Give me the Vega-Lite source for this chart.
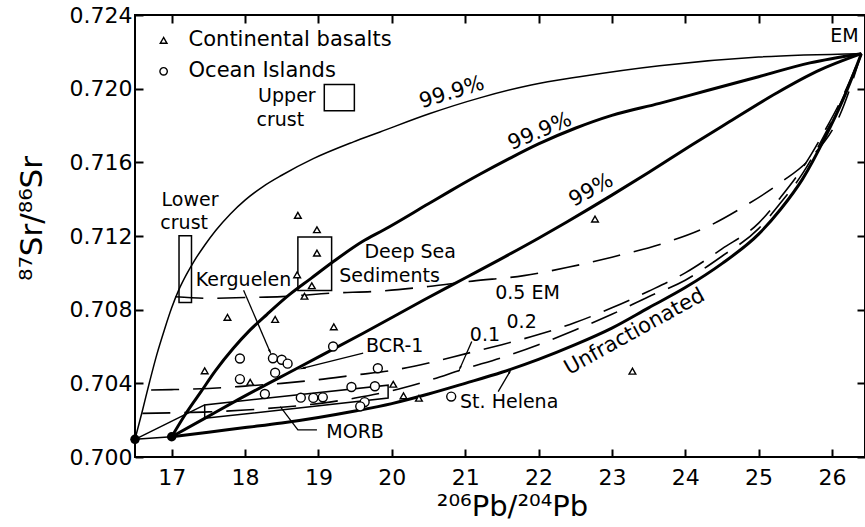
{
  "$schema": "https://vega.github.io/schema/vega-lite/v6.json",
  "width": 730,
  "height": 442,
  "autosize": "none",
  "padding": {"left": 135, "top": 15, "right": 0, "bottom": 70},
  "background": "white",
  "config": {
    "view": {"stroke": "black", "strokeWidth": 2},
    "font": "DejaVu Sans",
    "axis": {"domain": false, "grid": false, "tickColor": "black", "tickSize": -8, "tickWidth": 2, "labelFont": "DejaVu Sans", "labelFontSize": 22, "labelColor": "black", "titleFont": "DejaVu Sans", "titleFontWeight": "normal", "titleColor": "black"},
    "text": {"font": "DejaVu Sans", "fontSize": 20, "color": "black"}
  },
  "datasets": {
    "curves": [
      {"c": "A", "x": 16.5, "y": 0.70096}, {"c": "A", "x": 16.6, "y": 0.7025}, {"c": "A", "x": 16.7, "y": 0.7041}, {"c": "A", "x": 16.8, "y": 0.7056}, {"c": "A", "x": 16.9, "y": 0.7069}, {"c": "A", "x": 17.0, "y": 0.7081}, {"c": "A", "x": 17.1, "y": 0.7091}, {"c": "A", "x": 17.2, "y": 0.7099}, {"c": "A", "x": 17.3, "y": 0.7106}, {"c": "A", "x": 17.45, "y": 0.7115}, {"c": "A", "x": 17.6, "y": 0.7123}, {"c": "A", "x": 17.8, "y": 0.7132}, {"c": "A", "x": 18.0, "y": 0.71395}, {"c": "A", "x": 18.25, "y": 0.7147}, {"c": "A", "x": 18.5, "y": 0.7153}, {"c": "A", "x": 18.93, "y": 0.7162}, {"c": "A", "x": 19.47, "y": 0.7171}, {"c": "A", "x": 19.84, "y": 0.71765}, {"c": "A", "x": 20.52, "y": 0.71865}, {"c": "A", "x": 21.2, "y": 0.7195}, {"c": "A", "x": 21.9, "y": 0.7202}, {"c": "A", "x": 22.56, "y": 0.72065}, {"c": "A", "x": 23.65, "y": 0.72125}, {"c": "A", "x": 25.0, "y": 0.72172}, {"c": "A", "x": 26.4, "y": 0.7219},
      {"c": "H", "x": 16.5, "y": 0.70096}, {"c": "H", "x": 17.0, "y": 0.7011},
      {"c": "I", "x": 16.5, "y": 0.70096}, {"c": "I", "x": 17.45, "y": 0.70283},
      {"c": "B", "x": 17.0, "y": 0.7011}, {"c": "B", "x": 17.2, "y": 0.7024}, {"c": "B", "x": 17.4, "y": 0.70355}, {"c": "B", "x": 17.6, "y": 0.7047}, {"c": "B", "x": 17.84, "y": 0.7059}, {"c": "B", "x": 18.07, "y": 0.7069}, {"c": "B", "x": 18.3, "y": 0.70775}, {"c": "B", "x": 18.6, "y": 0.7088}, {"c": "B", "x": 18.9, "y": 0.7097}, {"c": "B", "x": 19.2, "y": 0.7106}, {"c": "B", "x": 19.6, "y": 0.7117}, {"c": "B", "x": 19.9, "y": 0.71235}, {"c": "B", "x": 20.5, "y": 0.71375}, {"c": "B", "x": 20.8, "y": 0.71445}, {"c": "B", "x": 21.2, "y": 0.71535}, {"c": "B", "x": 21.6, "y": 0.7162}, {"c": "B", "x": 22.0, "y": 0.717}, {"c": "B", "x": 22.5, "y": 0.71785}, {"c": "B", "x": 23.0, "y": 0.71855}, {"c": "B", "x": 23.65, "y": 0.7192}, {"c": "B", "x": 24.3, "y": 0.7199}, {"c": "B", "x": 25.0, "y": 0.72065}, {"c": "B", "x": 25.7, "y": 0.7214}, {"c": "B", "x": 26.4, "y": 0.7219},
      {"c": "C", "x": 17.0, "y": 0.7011}, {"c": "C", "x": 17.45, "y": 0.7021}, {"c": "C", "x": 17.9, "y": 0.7031}, {"c": "C", "x": 18.75, "y": 0.7049}, {"c": "C", "x": 19.61, "y": 0.70672}, {"c": "C", "x": 20.43, "y": 0.70851}, {"c": "C", "x": 21.0, "y": 0.70972}, {"c": "C", "x": 21.47, "y": 0.71072}, {"c": "C", "x": 22.0, "y": 0.71188}, {"c": "C", "x": 22.38, "y": 0.71275}, {"c": "C", "x": 23.0, "y": 0.71422}, {"c": "C", "x": 23.5, "y": 0.71545}, {"c": "C", "x": 24.11, "y": 0.717}, {"c": "C", "x": 24.6, "y": 0.7182}, {"c": "C", "x": 25.24, "y": 0.71975}, {"c": "C", "x": 25.8, "y": 0.72095}, {"c": "C", "x": 26.4, "y": 0.7219},
      {"c": "D", "x": 17.0, "y": 0.7011}, {"c": "D", "x": 17.5, "y": 0.70135}, {"c": "D", "x": 18.0, "y": 0.7016}, {"c": "D", "x": 18.5, "y": 0.70185}, {"c": "D", "x": 19.0, "y": 0.70215}, {"c": "D", "x": 19.5, "y": 0.7025}, {"c": "D", "x": 20.0, "y": 0.7029}, {"c": "D", "x": 20.5, "y": 0.70342}, {"c": "D", "x": 21.0, "y": 0.704}, {"c": "D", "x": 21.5, "y": 0.7046}, {"c": "D", "x": 22.0, "y": 0.7053}, {"c": "D", "x": 22.5, "y": 0.7061}, {"c": "D", "x": 23.0, "y": 0.707}, {"c": "D", "x": 23.5, "y": 0.7081}, {"c": "D", "x": 24.0, "y": 0.7092}, {"c": "D", "x": 24.5, "y": 0.7105}, {"c": "D", "x": 25.0, "y": 0.7121}, {"c": "D", "x": 25.3, "y": 0.71345}, {"c": "D", "x": 25.6, "y": 0.7151}, {"c": "D", "x": 25.9, "y": 0.7173}, {"c": "D", "x": 26.15, "y": 0.7194}, {"c": "D", "x": 26.4, "y": 0.7219},
      {"c": "E", "x": 17.05, "y": 0.7087}, {"c": "E", "x": 17.5, "y": 0.70862}, {"c": "E", "x": 18.0, "y": 0.70866}, {"c": "E", "x": 18.5, "y": 0.70871}, {"c": "E", "x": 19.2, "y": 0.7089}, {"c": "E", "x": 19.8, "y": 0.709}, {"c": "E", "x": 20.5, "y": 0.70926}, {"c": "E", "x": 21.1, "y": 0.70955}, {"c": "E", "x": 21.8, "y": 0.70985}, {"c": "E", "x": 22.4, "y": 0.7103}, {"c": "E", "x": 23.0, "y": 0.71085}, {"c": "E", "x": 23.7, "y": 0.7116}, {"c": "E", "x": 24.3, "y": 0.7125}, {"c": "E", "x": 24.8, "y": 0.7136}, {"c": "E", "x": 25.3, "y": 0.7149}, {"c": "E", "x": 25.7, "y": 0.7162}, {"c": "E", "x": 26.1, "y": 0.7185}, {"c": "E", "x": 26.4, "y": 0.7219},
      {"c": "F", "x": 16.72, "y": 0.70364}, {"c": "F", "x": 17.0, "y": 0.70366}, {"c": "F", "x": 17.5, "y": 0.70372}, {"c": "F", "x": 18.0, "y": 0.70385}, {"c": "F", "x": 18.5, "y": 0.704}, {"c": "F", "x": 19.0, "y": 0.7042}, {"c": "F", "x": 19.5, "y": 0.70445}, {"c": "F", "x": 20.0, "y": 0.7047}, {"c": "F", "x": 20.5, "y": 0.7051}, {"c": "F", "x": 21.0, "y": 0.7056}, {"c": "F", "x": 21.5, "y": 0.7061}, {"c": "F", "x": 22.0, "y": 0.70665}, {"c": "F", "x": 22.5, "y": 0.7073}, {"c": "F", "x": 23.0, "y": 0.7081}, {"c": "F", "x": 23.5, "y": 0.709}, {"c": "F", "x": 24.0, "y": 0.71}, {"c": "F", "x": 24.5, "y": 0.7113}, {"c": "F", "x": 25.0, "y": 0.7127}, {"c": "F", "x": 25.3, "y": 0.7141}, {"c": "F", "x": 25.6, "y": 0.7157}, {"c": "F", "x": 25.9, "y": 0.7177}, {"c": "F", "x": 26.15, "y": 0.7196}, {"c": "F", "x": 26.4, "y": 0.7219},
      {"c": "G", "x": 16.6, "y": 0.70237}, {"c": "G", "x": 17.0, "y": 0.7024}, {"c": "G", "x": 17.5, "y": 0.70245}, {"c": "G", "x": 18.0, "y": 0.70255}, {"c": "G", "x": 18.5, "y": 0.7027}, {"c": "G", "x": 19.0, "y": 0.7029}, {"c": "G", "x": 19.5, "y": 0.7032}, {"c": "G", "x": 20.0, "y": 0.7036}, {"c": "G", "x": 20.5, "y": 0.70415}, {"c": "G", "x": 21.0, "y": 0.7048}, {"c": "G", "x": 21.5, "y": 0.7054}, {"c": "G", "x": 22.0, "y": 0.7061}, {"c": "G", "x": 22.5, "y": 0.7069}, {"c": "G", "x": 23.0, "y": 0.70775}, {"c": "G", "x": 23.5, "y": 0.7087}, {"c": "G", "x": 24.0, "y": 0.7096}, {"c": "G", "x": 24.5, "y": 0.7109}, {"c": "G", "x": 25.0, "y": 0.7124}, {"c": "G", "x": 25.3, "y": 0.7138}, {"c": "G", "x": 25.6, "y": 0.7154}, {"c": "G", "x": 25.9, "y": 0.7175}, {"c": "G", "x": 26.15, "y": 0.7195}, {"c": "G", "x": 26.4, "y": 0.7219}
    ],
    "morb": [
      {"o": 1, "x": 17.45, "y": 0.7021}, {"o": 2, "x": 17.45, "y": 0.70283}, {"o": 3, "x": 19.95, "y": 0.7039}, {"o": 4, "x": 19.95, "y": 0.7032}, {"o": 5, "x": 17.45, "y": 0.7021}
    ],
    "leaders": [
      {"g": "Kerguelen", "o": 1, "x": 17.98, "y": 0.70905}, {"g": "Kerguelen", "o": 2, "x": 18.34, "y": 0.70572},
      {"g": "BCR", "o": 1, "x": 19.61, "y": 0.70564}, {"g": "BCR", "o": 2, "x": 18.79, "y": 0.70482},
      {"g": "StHelena", "o": 1, "x": 21.45, "y": 0.70355}, {"g": "StHelena", "o": 2, "x": 21.61, "y": 0.70464},
      {"g": "p1", "o": 1, "x": 21.09, "y": 0.70627}, {"g": "p1", "o": 2, "x": 20.93, "y": 0.70482},
      {"g": "MORB", "o": 1, "x": 18.48, "y": 0.70273}, {"g": "MORB", "o": 2, "x": 18.72, "y": 0.70147}, {"g": "MORB", "o": 3, "x": 18.98, "y": 0.70147}
    ],
    "boxes": [
      {"name": "Lower crust", "x": 17.1, "x2": 17.27, "y": 0.70839, "y2": 0.71201},
      {"name": "Deep Sea Sediments", "x": 18.72, "x2": 19.18, "y": 0.70904, "y2": 0.71194},
      {"name": "Upper crust", "x": 19.08, "x2": 19.49, "y": 0.7188, "y2": 0.72022}
    ],
    "ends": [
      {"name": "start 1", "x": 16.5, "y": 0.70096}, {"name": "start 2", "x": 17.0, "y": 0.7011}
    ],
    "basalts": [
      {"x": 18.72, "y": 0.71312}, {"x": 18.98, "y": 0.71234}, {"x": 18.98, "y": 0.71107}, {"x": 18.71, "y": 0.70989}, {"x": 18.91, "y": 0.7093}, {"x": 18.81, "y": 0.70873}, {"x": 17.76, "y": 0.70758}, {"x": 18.41, "y": 0.70747}, {"x": 19.21, "y": 0.70707}, {"x": 17.45, "y": 0.70468}, {"x": 18.07, "y": 0.70406}, {"x": 20.02, "y": 0.70395}, {"x": 20.16, "y": 0.70332}, {"x": 20.37, "y": 0.70319}, {"x": 22.77, "y": 0.71292}, {"x": 23.28, "y": 0.70466}
    ],
    "islands": [
      {"x": 17.93, "y": 0.70535}, {"x": 18.38, "y": 0.70536}, {"x": 18.5, "y": 0.70528}, {"x": 18.58, "y": 0.70507}, {"x": 18.41, "y": 0.70458}, {"x": 17.93, "y": 0.70423}, {"x": 18.27, "y": 0.70342}, {"x": 19.2, "y": 0.706}, {"x": 19.81, "y": 0.70482}, {"x": 18.76, "y": 0.70322}, {"x": 18.93, "y": 0.70321}, {"x": 19.06, "y": 0.70324}, {"x": 19.45, "y": 0.7038}, {"x": 19.77, "y": 0.70384}, {"x": 19.63, "y": 0.70298}, {"x": 19.57, "y": 0.70275}, {"x": 20.81, "y": 0.70328}
    ],
    "legend": [
      {"kind": "Continental basalts", "x": 16.89, "y": 0.72262, "tx": 17.23},
      {"kind": "Ocean Islands", "x": 16.89, "y": 0.72094, "tx": 17.23}
    ],
    "labels": [
      {"t": "Upper", "x": 18.57, "y": 0.71958},
      {"t": "crust", "x": 18.48, "y": 0.71828},
      {"t": "Lower", "x": 17.25, "y": 0.71398},
      {"t": "crust", "x": 17.17, "y": 0.71268},
      {"t": "Kerguelen", "x": 17.98, "y": 0.70962},
      {"t": "Deep Sea", "x": 20.25, "y": 0.71112},
      {"t": "Sediments", "x": 19.97, "y": 0.70984},
      {"t": "0.5 EM", "x": 21.85, "y": 0.70891},
      {"t": "0.1", "x": 21.27, "y": 0.70663},
      {"t": "0.2", "x": 21.77, "y": 0.70734},
      {"t": "BCR-1", "x": 20.04, "y": 0.70603},
      {"t": "St. Helena", "x": 21.6, "y": 0.70299},
      {"t": "MORB", "x": 19.5, "y": 0.70138},
      {"t": "EM", "x": 26.17, "y": 0.72285}
    ],
    "slanted": [
      {"t": "99.9%", "which": "thin", "x": 20.82, "y": 0.71978},
      {"t": "99.9%", "which": "thick", "x": 22.02, "y": 0.71766},
      {"t": "99%", "which": "99", "x": 22.72, "y": 0.71447},
      {"t": "Unfractionated", "which": "unf", "x": 23.31, "y": 0.70679}
    ]
  },
  "resolve": {"axis": {"x": "independent", "y": "independent"}},
  "layer": [
    {
      "data": {"name": "curves"},
      "transform": [{"filter": {"field": "c", "oneOf": ["A", "H", "I"]}}],
      "mark": {"type": "line", "stroke": "black", "strokeWidth": 1.5, "interpolate": "monotone"},
      "encoding": {
        "x": {"field": "x", "type": "quantitative", "scale": {"domain": [16.5, 26.45], "nice": false, "zero": false},
              "axis": {"orient": "bottom", "values": [17, 18, 19, 20, 21, 22, 23, 24, 25, 26], "format": "d", "labelPadding": 18,
                       "title": "²⁰⁶Pb/²⁰⁴Pb", "titleFontSize": 29, "titleX": 377, "titleY": 49, "titleAnchor": null, "titleAlign": "center", "titleBaseline": "middle"}},
        "y": {"field": "y", "type": "quantitative", "scale": {"domain": [0.7, 0.724], "nice": false, "zero": false},
              "axis": {"orient": "left", "values": [0.7, 0.704, 0.708, 0.712, 0.716, 0.72, 0.724], "format": ".3f", "labelPadding": 11,
                       "title": "⁸⁷Sr/⁸⁶Sr", "titleFontSize": 31, "titleX": -103, "titleY": 203, "titleAnchor": null, "titleAlign": "center", "titleBaseline": "middle", "titleAngle": -90}},
        "detail": {"field": "c"}
      }
    },
    {
      "data": {"name": "ends"},
      "mark": {"type": "point", "opacity": 0},
      "encoding": {
        "x": {"field": "x", "type": "quantitative", "axis": {"orient": "top", "values": [17, 18, 19, 20, 21, 22, 23, 24, 25, 26], "labels": false, "title": null}},
        "y": {"field": "y", "type": "quantitative", "axis": {"orient": "right", "values": [0.7, 0.704, 0.708, 0.712, 0.716, 0.72, 0.724], "labels": false, "title": null}}
      }
    },
    {
      "data": {"name": "curves"},
      "transform": [{"filter": {"field": "c", "oneOf": ["B", "C", "D"]}}],
      "mark": {"type": "line", "stroke": "black", "strokeWidth": 3, "interpolate": "monotone"},
      "encoding": {
        "x": {"field": "x", "type": "quantitative", "axis": null},
        "y": {"field": "y", "type": "quantitative", "axis": null},
        "detail": {"field": "c"}
      }
    },
    {
      "data": {"name": "curves"},
      "transform": [{"filter": {"field": "c", "oneOf": ["E", "F", "G"]}}],
      "mark": {"type": "line", "stroke": "black", "strokeWidth": 1.6, "strokeDash": [28, 14], "interpolate": "monotone"},
      "encoding": {
        "x": {"field": "x", "type": "quantitative", "axis": null},
        "y": {"field": "y", "type": "quantitative", "axis": null},
        "detail": {"field": "c"}
      }
    },
    {
      "data": {"name": "morb"},
      "mark": {"type": "line", "stroke": "black", "strokeWidth": 1.5},
      "encoding": {
        "x": {"field": "x", "type": "quantitative", "axis": null},
        "y": {"field": "y", "type": "quantitative", "axis": null},
        "order": {"field": "o"}
      }
    },
    {
      "data": {"name": "leaders"},
      "mark": {"type": "line", "stroke": "black", "strokeWidth": 1.3},
      "encoding": {
        "x": {"field": "x", "type": "quantitative", "axis": null},
        "y": {"field": "y", "type": "quantitative", "axis": null},
        "detail": {"field": "g"},
        "order": {"field": "o"}
      }
    },
    {
      "data": {"name": "leaders"},
      "transform": [{"filter": "datum.g === 'Kerguelen' && datum.o === 2"}],
      "mark": {"type": "point", "shape": "wedge", "filled": true, "color": "black", "size": 70, "angle": 156, "opacity": 1},
      "encoding": {"x": {"field": "x", "type": "quantitative", "axis": null}, "y": {"field": "y", "type": "quantitative", "axis": null}}
    },
    {
      "data": {"name": "leaders"},
      "transform": [{"filter": "datum.g === 'BCR' && datum.o === 2"}],
      "mark": {"type": "point", "shape": "wedge", "filled": true, "color": "black", "size": 90, "angle": 256, "opacity": 1},
      "encoding": {"x": {"field": "x", "type": "quantitative", "axis": null}, "y": {"field": "y", "type": "quantitative", "axis": null}}
    },
    {
      "data": {"name": "leaders"},
      "transform": [{"filter": "datum.g === 'StHelena' && datum.o === 2"}],
      "mark": {"type": "point", "shape": "wedge", "filled": true, "color": "black", "size": 60, "angle": 30, "opacity": 1},
      "encoding": {"x": {"field": "x", "type": "quantitative", "axis": null}, "y": {"field": "y", "type": "quantitative", "axis": null}}
    },
    {
      "data": {"name": "leaders"},
      "transform": [{"filter": "datum.g === 'p1' && datum.o === 2"}],
      "mark": {"type": "point", "shape": "wedge", "filled": true, "color": "black", "size": 60, "angle": 204, "opacity": 1},
      "encoding": {"x": {"field": "x", "type": "quantitative", "axis": null}, "y": {"field": "y", "type": "quantitative", "axis": null}}
    },
    {
      "data": {"name": "boxes"},
      "mark": {"type": "rect", "fill": null, "fillOpacity": 0, "stroke": "black", "strokeWidth": 1.5},
      "encoding": {
        "x": {"field": "x", "type": "quantitative", "axis": null},
        "x2": {"field": "x2"},
        "y": {"field": "y", "type": "quantitative", "axis": null},
        "y2": {"field": "y2"}
      }
    },
    {
      "data": {"name": "ends"},
      "mark": {"type": "point", "shape": "circle", "filled": true, "color": "black", "size": 90, "opacity": 1},
      "encoding": {"x": {"field": "x", "type": "quantitative", "axis": null}, "y": {"field": "y", "type": "quantitative", "axis": null}}
    },
    {
      "data": {"name": "basalts"},
      "mark": {"type": "point", "shape": "triangle-up", "filled": true, "fill": "white", "stroke": "black", "strokeWidth": 1.4, "size": 45, "opacity": 1},
      "encoding": {"x": {"field": "x", "type": "quantitative", "axis": null}, "y": {"field": "y", "type": "quantitative", "axis": null}}
    },
    {
      "data": {"name": "islands"},
      "mark": {"type": "point", "shape": "circle", "filled": true, "fill": "white", "stroke": "black", "strokeWidth": 1.4, "size": 80, "opacity": 1},
      "encoding": {"x": {"field": "x", "type": "quantitative", "axis": null}, "y": {"field": "y", "type": "quantitative", "axis": null}}
    },
    {
      "data": {"name": "legend"},
      "transform": [{"filter": "datum.kind === 'Continental basalts'"}],
      "mark": {"type": "point", "shape": "triangle-up", "filled": false, "stroke": "black", "strokeWidth": 1.4, "size": 45, "opacity": 1},
      "encoding": {"x": {"field": "x", "type": "quantitative", "axis": null}, "y": {"field": "y", "type": "quantitative", "axis": null}}
    },
    {
      "data": {"name": "legend"},
      "transform": [{"filter": "datum.kind === 'Ocean Islands'"}],
      "mark": {"type": "point", "shape": "circle", "filled": false, "stroke": "black", "strokeWidth": 1.4, "size": 55, "opacity": 1},
      "encoding": {"x": {"field": "x", "type": "quantitative", "axis": null}, "y": {"field": "y", "type": "quantitative", "axis": null}}
    },
    {
      "data": {"name": "legend"},
      "mark": {"type": "text", "align": "left", "baseline": "middle", "fontSize": 21},
      "encoding": {"x": {"field": "tx", "type": "quantitative", "axis": null}, "y": {"field": "y", "type": "quantitative", "axis": null}, "text": {"field": "kind"}}
    },
    {
      "data": {"name": "labels"},
      "mark": {"type": "text", "align": "center", "baseline": "middle", "fontSize": 19},
      "encoding": {"x": {"field": "x", "type": "quantitative", "axis": null}, "y": {"field": "y", "type": "quantitative", "axis": null}, "text": {"field": "t"}}
    },
    {
      "data": {"name": "slanted"},
      "transform": [{"filter": "datum.which === 'thin'"}],
      "mark": {"type": "text", "align": "center", "baseline": "middle", "fontSize": 21, "angle": -17},
      "encoding": {"x": {"field": "x", "type": "quantitative", "axis": null}, "y": {"field": "y", "type": "quantitative", "axis": null}, "text": {"field": "t"}}
    },
    {
      "data": {"name": "slanted"},
      "transform": [{"filter": "datum.which === 'thick'"}],
      "mark": {"type": "text", "align": "center", "baseline": "middle", "fontSize": 21, "angle": -23},
      "encoding": {"x": {"field": "x", "type": "quantitative", "axis": null}, "y": {"field": "y", "type": "quantitative", "axis": null}, "text": {"field": "t"}}
    },
    {
      "data": {"name": "slanted"},
      "transform": [{"filter": "datum.which === '99'"}],
      "mark": {"type": "text", "align": "center", "baseline": "middle", "fontSize": 21, "angle": -29},
      "encoding": {"x": {"field": "x", "type": "quantitative", "axis": null}, "y": {"field": "y", "type": "quantitative", "axis": null}, "text": {"field": "t"}}
    },
    {
      "data": {"name": "slanted"},
      "transform": [{"filter": "datum.which === 'unf'"}],
      "mark": {"type": "text", "align": "center", "baseline": "middle", "fontSize": 21, "angle": -29},
      "encoding": {"x": {"field": "x", "type": "quantitative", "axis": null}, "y": {"field": "y", "type": "quantitative", "axis": null}, "text": {"field": "t"}}
    }
  ]
}
